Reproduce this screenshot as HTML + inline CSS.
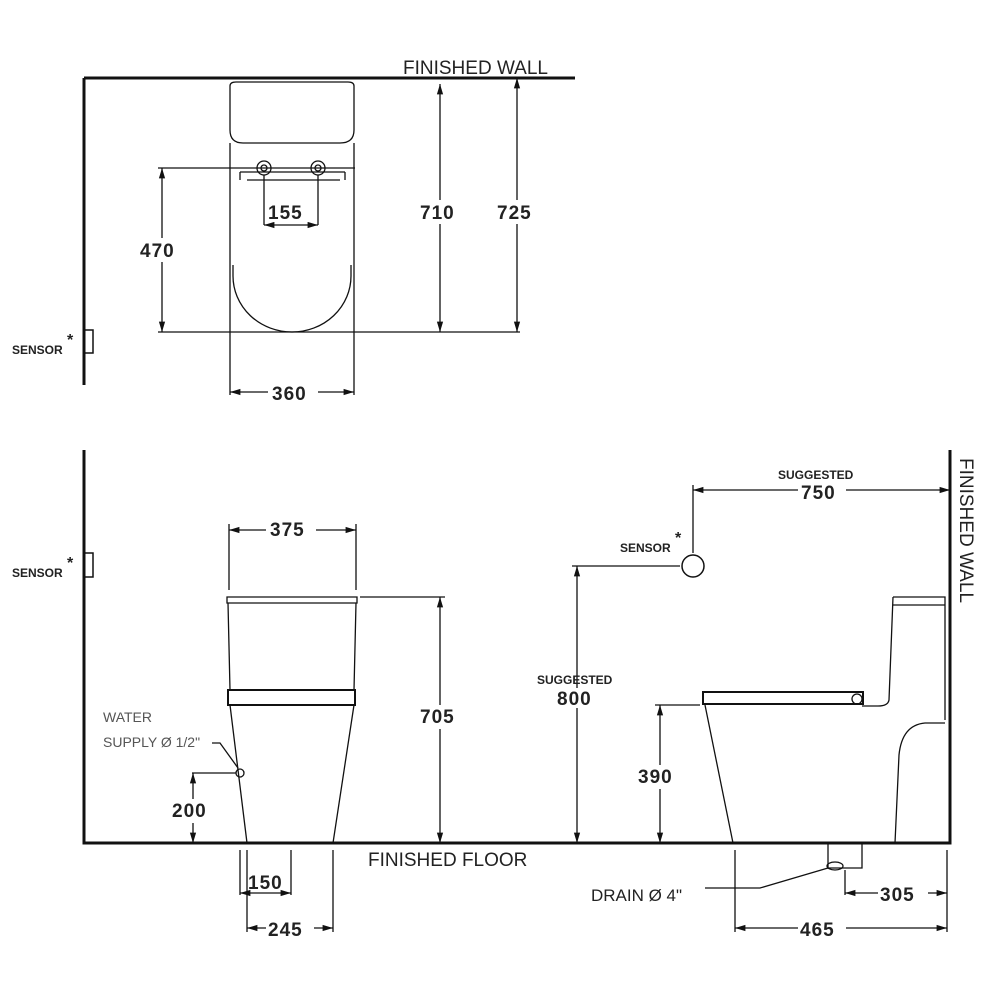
<!DOCTYPE html>
<html><head><style>body{margin:0;background:#fff}svg{display:block}text{font-family:"Liberation Sans",sans-serif;fill:#222}</style></head><body>
<svg width="1000" height="1000" viewBox="0 0 1000 1000" xmlns="http://www.w3.org/2000/svg">
<defs><marker id="a" viewBox="0 0 10 10" refX="10" refY="5" markerWidth="8" markerHeight="8" orient="auto-start-reverse"><path d="M0,2 L10,5 L0,8z" fill="#111"/></marker></defs>
<g stroke="#111" fill="none" stroke-width="1.3">
<path d="M84,78 H575 M84,78 V385" stroke-width="3"/>
<rect x="84" y="330" width="9" height="23" stroke-width="1.5"/>
<path d="M230,86 Q230,82 236,82 H348 Q354,82 354,86 V130 Q354,143 340,143 H243 Q230,143 230,130 Z"/>
<path d="M230,143 V395 M354,143 V395"/>
<path d="M233,265 V276 A59,56 0 0 0 351,276 V265"/>
<path d="M158,168 H355 M158,332 H520"/>
<path d="M240,172 H345 M240,172 V180 M345,172 V180 M340,180 H247"/>
<circle cx="264" cy="168" r="7"/><circle cx="264" cy="168" r="3"/>
<circle cx="318" cy="168" r="7"/><circle cx="318" cy="168" r="3"/>
<path d="M264,175 V225 M318,175 V225"/>
<path d="M264,225 H318" marker-start="url(#a)" marker-end="url(#a)"/>
<path d="M162,168 V332" marker-start="url(#a)" marker-end="url(#a)"/>
<path d="M440,84 V332" marker-start="url(#a)" marker-end="url(#a)"/>
<path d="M517,78 V332" marker-start="url(#a)" marker-end="url(#a)"/>
<path d="M230,392 H354" marker-start="url(#a)" marker-end="url(#a)"/>
<path d="M84,450 V843 H950 V450" stroke-width="3"/>
<rect x="84" y="553" width="9" height="24" stroke-width="1.5"/>
<path d="M227,597 H357 V603 H227 Z"/>
<path d="M228,603 L230,690 M356,603 L354,690"/>
<rect x="228" y="690" width="127" height="15" stroke-width="2"/>
<path d="M230,705 L247,843 M354,705 L333,843"/>
<path d="M229,524 V590 M356,524 V590"/>
<path d="M229,530 H356" marker-start="url(#a)" marker-end="url(#a)"/>
<path d="M360,597 H445"/>
<path d="M440,597 V843" marker-start="url(#a)" marker-end="url(#a)"/>
<circle cx="240" cy="773" r="4"/>
<path d="M192,773 H236 M212,743 H220 L238,768"/>
<path d="M193,773 V843" marker-start="url(#a)" marker-end="url(#a)"/>
<path d="M240,850 V895 M291,850 V895 M247,850 V932 M333,850 V932"/>
<path d="M240,893 H291" marker-start="url(#a)" marker-end="url(#a)"/>
<path d="M247,928 H333" marker-start="url(#a)" marker-end="url(#a)"/>
<path d="M893,597 H945 V720 M893,605 H945 M893,597 L889,700 Q888,706 878,706 H862"/>
<rect x="703" y="692" width="160" height="12" stroke-width="2"/>
<circle cx="857" cy="699" r="5"/>
<path d="M705,705 L733,843 M895,843 L899,755 Q902,725 925,723 H945"/>
<path d="M828,843 V868 H862 V843"/>
<ellipse cx="835" cy="866" rx="8" ry="4"/>
<circle cx="693" cy="566" r="11" stroke-width="1.5"/>
<path d="M572,566 H680"/>
<path d="M577,566 V843" marker-start="url(#a)" marker-end="url(#a)"/>
<path d="M693,485 V553"/>
<path d="M693,490 H950" marker-start="url(#a)" marker-end="url(#a)"/>
<path d="M655,705 H700"/>
<path d="M660,705 V843" marker-start="url(#a)" marker-end="url(#a)"/>
<path d="M735,850 V932 M947,850 V932 M845,870 V895"/>
<path d="M735,928 H947" marker-start="url(#a)" marker-end="url(#a)"/>
<path d="M845,893 H947" marker-start="url(#a)" marker-end="url(#a)"/>
<path d="M705,888 H760 L828,868"/>
</g>
<g font-size="19">
<text x="403" y="74">FINISHED WALL</text>
<text x="368" y="866">FINISHED FLOOR</text>
<text x="591" y="901" font-size="17">DRAIN Ø 4"</text>
<text transform="translate(960,458) rotate(90)">FINISHED WALL</text>
</g>
<g font-size="19" font-weight="bold" letter-spacing="1">
<rect x="266" y="200" width="50" height="22" fill="#fff"/>
<text x="268" y="219">155</text>
<rect x="138" y="238" width="48" height="24" fill="#fff"/>
<text x="140" y="257">470</text>
<rect x="418" y="200" width="46" height="24" fill="#fff"/>
<text x="420" y="219">710</text>
<rect x="495" y="200" width="46" height="24" fill="#fff"/>
<text x="497" y="219">725</text>
<rect x="268" y="382" width="50" height="22" fill="#fff"/>
<text x="272" y="400">360</text>
<rect x="266" y="518" width="50" height="22" fill="#fff"/>
<text x="270" y="536">375</text>
<rect x="418" y="705" width="46" height="24" fill="#fff"/>
<text x="420" y="723">705</text>
<rect x="170" y="799" width="46" height="24" fill="#fff"/>
<text x="172" y="817">200</text>
<text x="248" y="889">150</text>
<rect x="266" y="918" width="48" height="22" fill="#fff"/>
<text x="268" y="936">245</text>
<rect x="636" y="765" width="46" height="24" fill="#fff"/>
<text x="638" y="783">390</text>
<rect x="554" y="688" width="46" height="20" fill="#fff"/>
<text x="557" y="705">800</text>
<rect x="798" y="483" width="48" height="20" fill="#fff"/>
<text x="801" y="499">750</text>
<rect x="798" y="918" width="48" height="22" fill="#fff"/>
<text x="800" y="936">465</text>
<rect x="878" y="883" width="50" height="22" fill="#fff"/>
<text x="880" y="901">305</text>
</g>
<g font-size="12" font-weight="bold">
<text x="12" y="354">SENSOR</text><text x="67" y="345" font-size="16">*</text>
<text x="12" y="577">SENSOR</text><text x="67" y="568" font-size="16">*</text>
<text x="620" y="552">SENSOR</text><text x="675" y="543" font-size="16">*</text>
<text x="537" y="684">SUGGESTED</text>
<text x="778" y="479">SUGGESTED</text>
</g>
<g font-size="14">
<text x="103" y="722" style="fill:#555">WATER</text>
<text x="103" y="747" style="fill:#555">SUPPLY Ø 1/2"</text>
</g>
</svg>
</body></html>
